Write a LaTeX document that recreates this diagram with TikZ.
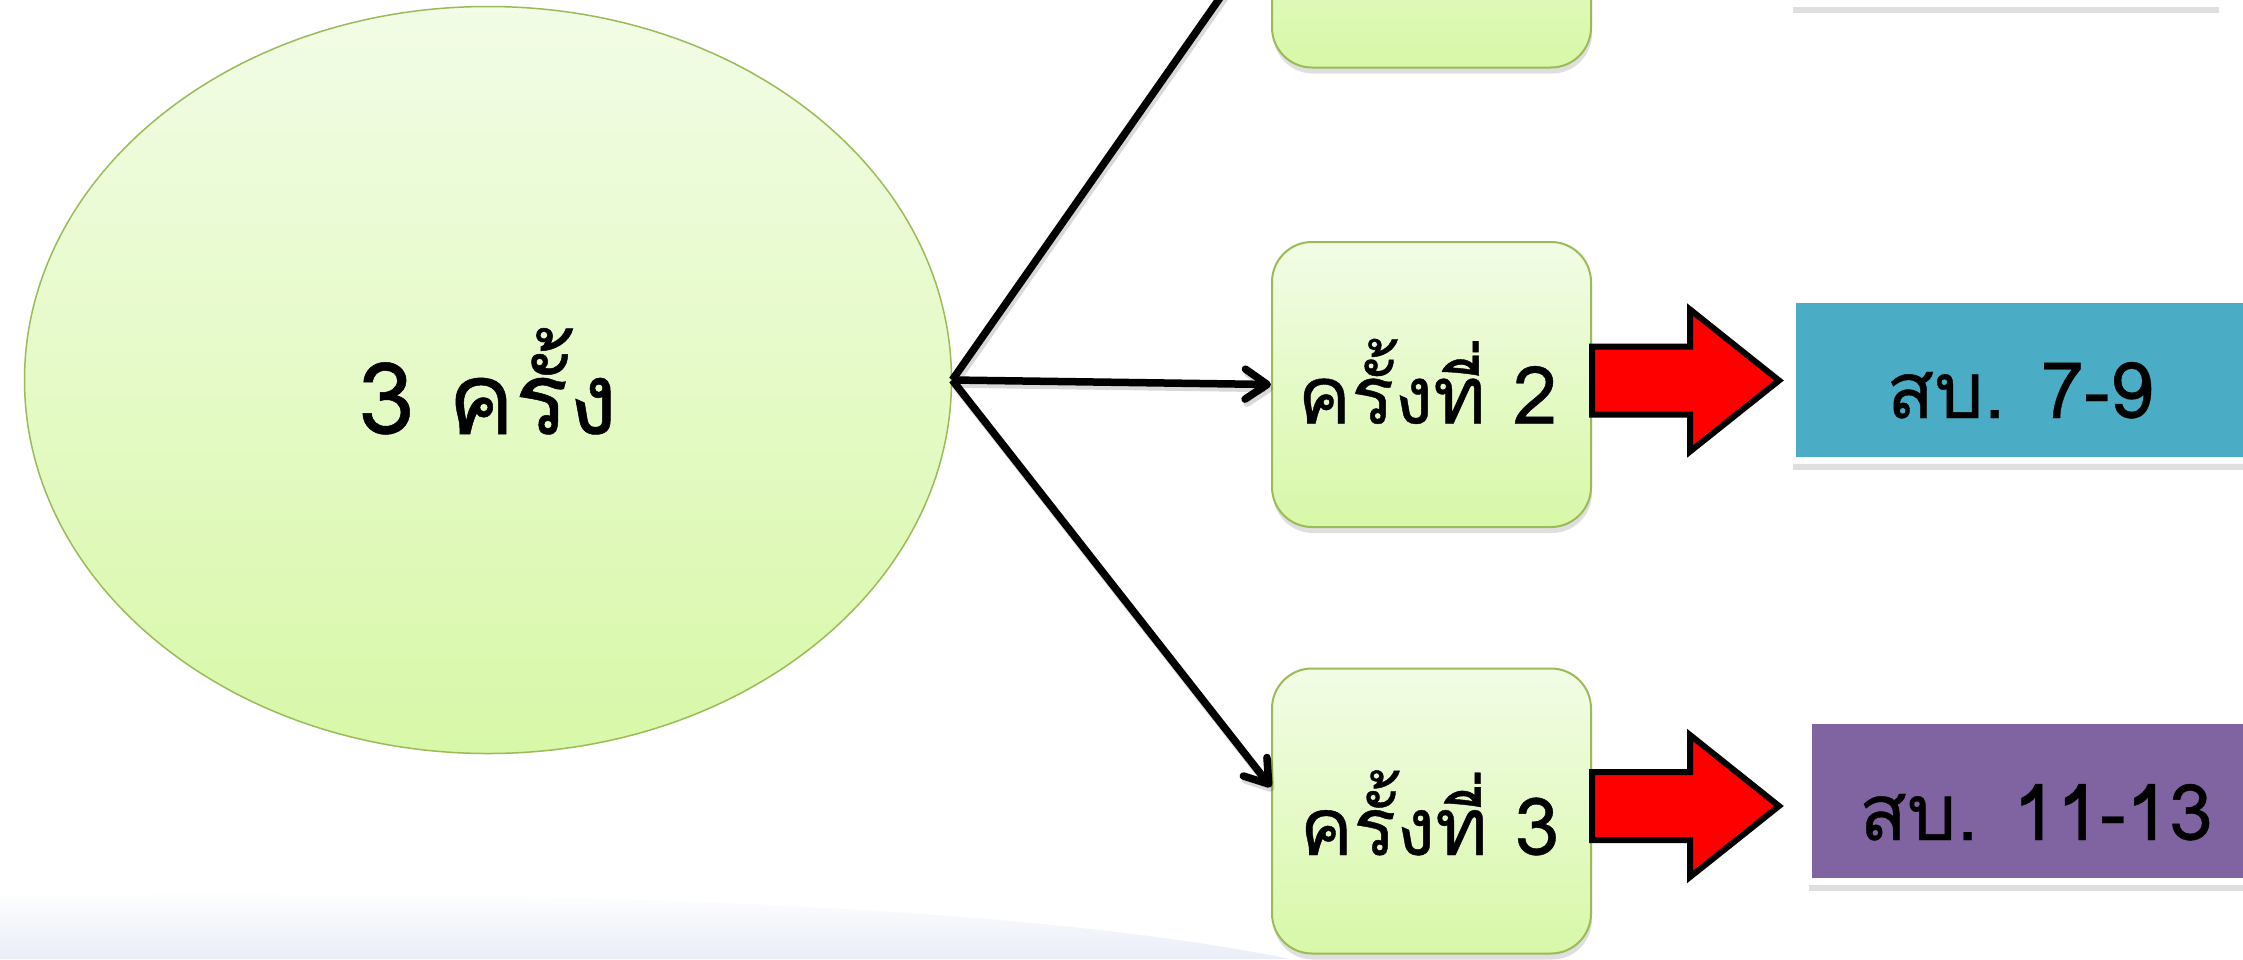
\documentclass[tikz,border=0pt]{standalone}
\usepackage{fontspec}
\newfontfamily\thai[Script=Thai,FakeBold=0.5]{Loma}
\usetikzlibrary{shapes.geometric,shadows,arrows.meta,calc}
\definecolor{gborder}{HTML}{9BBB59}
\definecolor{gtop}{HTML}{F2FCE6}
\definecolor{gbot}{HTML}{D8F8A8}
\definecolor{tealbox}{HTML}{4BACC6}
\definecolor{purpbox}{HTML}{8064A2}
\definecolor{swoosh}{HTML}{E9EDF7}
\begin{document}
\begin{tikzpicture}[x=1pt,y=-1pt,
  ellnode/.style={ellipse,draw=gborder,line width=1.5pt,top color=gtop,bottom color=gbot,
    minimum width=927pt,minimum height=747pt,inner sep=0pt},
  roundbox/.style={rectangle,rounded corners=40pt,draw=gborder,line width=2pt,
    top color=gtop,bottom color=gbot,minimum width=319pt,minimum height=285pt,inner sep=0pt,
    drop shadow={shadow xshift=1pt,shadow yshift=-6pt,opacity=0.25}},
  framebox/.style={rectangle,draw=white,line width=7.5pt,minimum width=456pt,minimum height=161pt,
    inner sep=0pt,drop shadow={shadow xshift=1pt,shadow yshift=-9pt,opacity=0.25}},
  conn/.style={line width=7.5pt,draw=black,-{Straight Barb[length=22pt,width=30pt,round]}},
  connshadow/.style={line width=7.5pt,draw=black,opacity=0.15,
    transform canvas={xshift=2pt,yshift=-4pt},-{Straight Barb[length=22pt,width=30pt,round]}},
  redarr/.style={fill=red,draw=black,line width=6pt,line join=miter},
  bigtxt/.style={font=\thai\fontsize{100}{120}\selectfont,anchor=base,inner sep=0pt},
  boxtxt/.style={font=\thai\fontsize{80}{96}\selectfont,anchor=base,inner sep=0pt},
  coltxt/.style={font=\thai\fontsize{78}{94}\selectfont,anchor=base,inner sep=0pt}]
\useasboundingbox (0,0) rectangle (2243,959);
\clip (0,0) rectangle (2243,959);
\fill[white] (0,0) rectangle (2243,959);
% faint background swoosh
\shade[top color=white,bottom color=swoosh] (0,895) .. controls (500,890) and (1000,900) .. (1290,959) -- (0,959) -- cycle;

% main ellipse
\node[ellnode] (e) at (488,380) {};
\node[bigtxt] (et) at ($(e.center)+(0,54)$) {3 ครั้ง};

% rounded boxes
\node[roundbox] (b1) at (1431.5,-75) {};
\node[roundbox] (b2) at (1431.5,384.5) {};
\node[roundbox] (b3) at (1431.5,811) {};
\node[boxtxt] (b2t) at ($(b2.center)+(-4,39)$) {ครั้งที่ 2};
\node[boxtxt] (b3t) at ($(b3.center)+(-2,44)$) {ครั้งที่ 3};

% connectors
\coordinate (b3in) at ($(b3.west)+(0,-24)$);
\draw[connshadow] (e.east) -- (b1.west);
\draw[connshadow] (e.east) -- (b2.west);
\draw[connshadow] (e.east) -- (b3in);
\draw[conn] (e.east) -- (b1.west);
\draw[conn] (e.east) -- (b2.west);
\draw[conn] (e.east) -- (b3in);

% coloured boxes
\node[framebox,fill=tealbox,minimum width=426pt] (c1) at (2004.5,-77) {};
\node[framebox,fill=tealbox] (c2) at (2020,380) {};
\node[framebox,fill=purpbox] (c3) at (2036,801) {};
\node[coltxt] (c2t) at ($(c2.center)+(0,38)$) {สบ. 7-9};
\node[coltxt] (c3t) at ($(c3.center)+(0,39)$) {สบ. 11-13};

% red block arrows
\begin{scope}[shift={($(b2.east)+(0,-4)$)}]
  \draw[redarr] (0,-34) -- (98,-34) -- (98,-71) -- (187,0) -- (98,71) -- (98,34) -- (0,34) -- cycle;
\end{scope}
\begin{scope}[shift={($(b3.east)+(0,-5)$)}]
  \draw[redarr] (0,-34) -- (98,-34) -- (98,-71) -- (187,0) -- (98,71) -- (98,34) -- (0,34) -- cycle;
\end{scope}
\end{tikzpicture}
\end{document}
